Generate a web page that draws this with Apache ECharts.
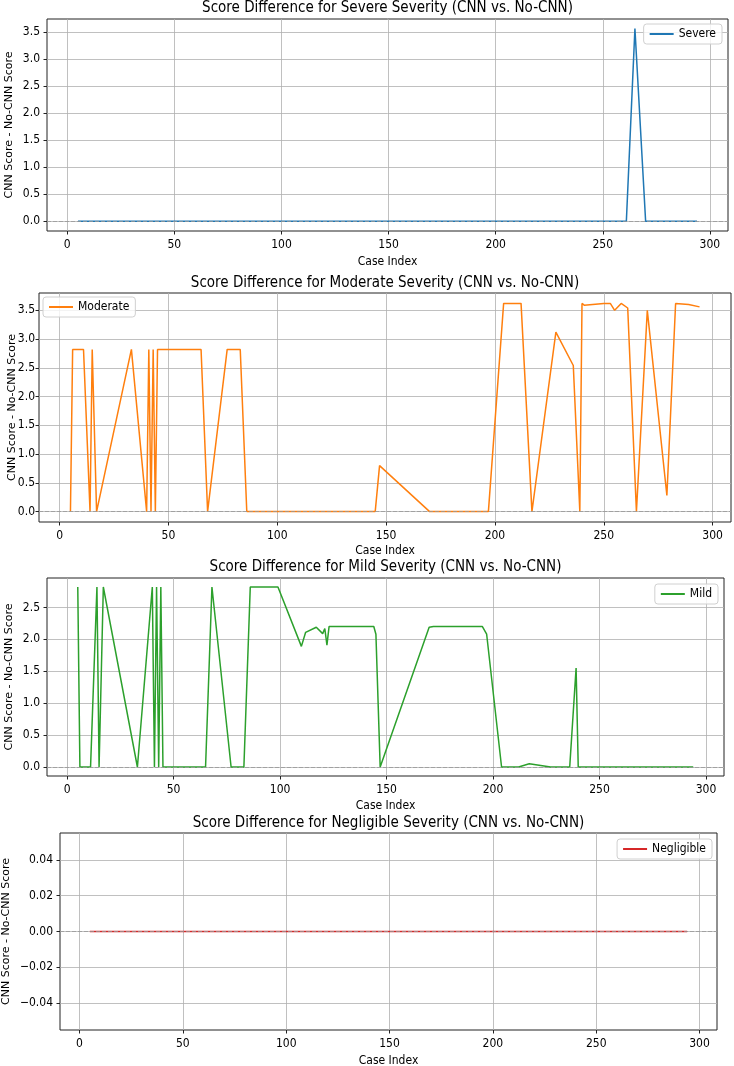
<!DOCTYPE html>
<html>
<head>
<meta charset="utf-8">
<script src="https://cdn.jsdelivr.net/npm/echarts@6/dist/echarts.min.js"></script>
<style>
  html, body { margin: 0; padding: 0; background: #fff; }
  #chart { width: 734px; height: 1066px; }
</style>
</head>
<body>
<div id="chart"></div>
<script>
// case index ticks and score ticks
var caseTicks = [0, 50, 100, 150, 200, 250, 300];
var scoreTicks = [0, 0.5, 1, 1.5, 2, 2.5, 3, 3.5];
var mildTicks = [0, 0.5, 1, 1.5, 2, 2.5];
var negligibleTicks = [-0.04, -0.02, 0, 0.02, 0.04];

// [case index, CNN score - No-CNN score]
var severe = [[5, 0], [261, 0], [265, 3.56], [270, 0], [294, 0]];

var moderate = [[5, 0], [6, 2.82], [11, 2.82], [14, 0], [15, 2.82], [17, 0], [33, 2.82], [40, 0],
  [41, 2.82], [42, 0], [43, 2.82], [44, 0], [45, 2.82], [65, 2.82], [68, 0], [77, 2.82],
  [83, 2.82], [86, 0], [145, 0], [147, 0.8], [170, 0], [197, 0], [204, 3.62], [212, 3.62],
  [217, 0], [228, 3.12], [236, 2.54], [239, 0], [240, 3.62], [241, 3.59], [250, 3.62],
  [253, 3.62], [255, 3.5], [258, 3.62], [261, 3.54], [265, 0], [270, 3.5], [279, 0.28],
  [283, 3.62], [289, 3.6], [294, 3.56]];

var mild = [[5, 2.82], [6, 0], [11, 0], [14, 2.82], [15, 0], [17, 2.82], [33, 0], [40, 2.82],
  [41, 0], [42, 2.82], [43, 0], [44, 2.82], [45, 0], [65, 0], [68, 2.82], [77, 0], [83, 0],
  [86, 2.82], [99, 2.82], [110, 1.89], [112, 2.11], [117, 2.19], [120, 2.09], [121, 2.17],
  [122, 1.91], [123, 2.2], [144, 2.2], [145, 2.08], [147, 0], [170, 2.19], [172, 2.2],
  [195, 2.2], [197, 2.08], [204, 0], [212, 0], [217, 0.05], [227, 0], [236, 0], [239, 1.55],
  [240, 0], [294, 0]];

var negligible = [[5, 0], [294, 0]];

var FONT = '"DejaVu Sans Condensed", "DejaVu Sans", sans-serif';

var panels = [
  { name: 'Severe', data: severe, color: '#1f77b4', ticks: scoreTicks, dec: 1,
    box: { left: 47, top: 19, width: 681, height: 212 }, titleTop: 1,
    yMin: -0.178, yMax: 3.738, yGap: 32, yMargin: 7, xGap: 25, legend: { right: 12, top: 24 } },
  { name: 'Moderate', data: moderate, color: '#ff7f0e', ticks: scoreTicks, dec: 1,
    box: { left: 39, top: 293, width: 692, height: 229 }, titleTop: 276,
    yMin: -0.181, yMax: 3.801, yGap: 21, yMargin: 4, xGap: 23, legend: { left: 43, top: 297 } },
  { name: 'Mild', data: mild, color: '#2ca02c', ticks: mildTicks, dec: 1,
    box: { left: 47, top: 578, width: 677, height: 198 }, titleTop: 560,
    yMin: -0.141, yMax: 2.961, yGap: 32, yMargin: 7, xGap: 24, legend: { right: 16, top: 584 } },
  { name: 'Negligible', data: negligible, color: '#d62728', ticks: negligibleTicks, dec: 2,
    box: { left: 60, top: 833, width: 657, height: 197 }, titleTop: 816,
    yMin: -0.055, yMax: 0.055, yGap: 48, yMargin: 7, xGap: 25, legend: { right: 22, top: 839 } }
];

var chart = echarts.init(document.getElementById('chart'));

var option = {
  animation: false,
  backgroundColor: '#fff',
  textStyle: { fontFamily: FONT },
  title: [],
  legend: [],
  grid: [],
  xAxis: [],
  yAxis: [],
  series: []
};

panels.forEach(function (p, i) {
  option.title.push({
    text: 'Score Difference for ' + p.name + ' Severity (CNN vs. No-CNN)',
    left: p.box.left + p.box.width / 2,
    top: p.titleTop,
    textAlign: 'center',
    padding: 0,
    textStyle: { fontFamily: FONT, fontSize: 15, fontWeight: 'normal', color: '#000' }
  });

  var lg = {
    data: [p.name],
    orient: 'vertical',
    icon: 'rect',
    itemWidth: 24,
    itemHeight: 2,
    padding: [4, 6],
    backgroundColor: 'rgba(255,255,255,0.8)',
    borderColor: '#d0d0d0',
    borderWidth: 1,
    borderRadius: 3,
    textStyle: { fontFamily: FONT, fontSize: 12, color: '#000' }
  };
  Object.keys(p.legend).forEach(function (k) { lg[k] = p.legend[k]; });
  option.legend.push(lg);

  option.grid.push({
    left: p.box.left, top: p.box.top, width: p.box.width, height: p.box.height,
    outerBoundsMode: 'none',
    containLabel: false,
    show: true, borderColor: '#222', borderWidth: 1, backgroundColor: 'transparent'
  });

  option.xAxis.push({
    type: 'value',
    gridIndex: i,
    min: function (v) { return v.min - 0.05 * (v.max - v.min); },
    max: function (v) { return v.max + 0.05 * (v.max - v.min); },
    name: 'Case Index',
    nameLocation: 'middle',
    nameGap: p.xGap,
    nameMoveOverlap: false,
    nameTextStyle: { fontFamily: FONT, fontSize: 12, color: '#000' },
    axisLine: { show: false, onZero: false },
    axisTick: { show: true, customValues: caseTicks, length: 3.5, lineStyle: { color: '#222' } },
    axisLabel: { customValues: caseTicks, fontSize: 12, color: '#000', margin: 8,
      formatter: function (v) { return String(v); } },
    splitLine: { show: true, lineStyle: { color: '#b0b0b0', width: 0.8 } }
  });

  option.yAxis.push({
    type: 'value',
    gridIndex: i,
    min: p.yMin,
    max: p.yMax,
    name: 'CNN Score - No-CNN Score',
    nameLocation: 'middle',
    nameGap: p.yGap,
    nameMoveOverlap: false,
    nameTextStyle: { fontFamily: '"DejaVu Sans", sans-serif', fontSize: 11, color: '#000' },
    axisLine: { show: false, onZero: false },
    axisTick: { show: true, customValues: p.ticks, length: 3.5, lineStyle: { color: '#222' } },
    axisLabel: { customValues: p.ticks, fontSize: 12, color: '#000', margin: p.yMargin,
      formatter: function (v) { return v.toFixed(p.dec).replace('-', '\u2212'); } },
    splitLine: { show: true, lineStyle: { color: '#b0b0b0', width: 0.8 } }
  });

  option.series.push({
    name: p.name,
    type: 'line',
    xAxisIndex: i,
    yAxisIndex: i,
    data: p.data,
    color: p.color,
    showSymbol: false,
    symbol: 'none',
    lineStyle: { width: 1.5, color: p.color },
    markLine: {
      silent: true,
      symbol: 'none',
      label: { show: false },
      lineStyle: { type: [4, 2], color: '#999', width: 1, opacity: 0.8 },
      data: [{ yAxis: 0 }]
    }
  });
});

chart.setOption(option);
</script>
</body>
</html>
